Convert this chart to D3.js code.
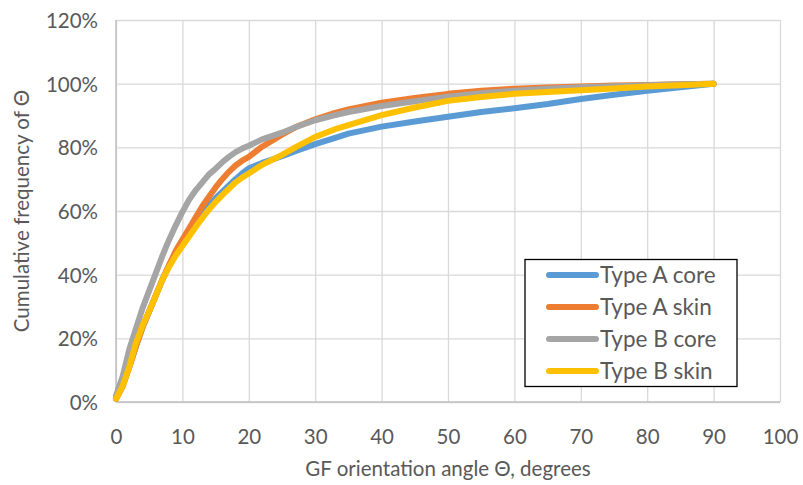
<!DOCTYPE html>
<html>
<head>
<meta charset="utf-8">
<script src="https://cdn.jsdelivr.net/npm/d3@7"></script>
<style>
  html, body { margin: 0; padding: 0; background: #fff; }
  svg { display: block; font-family: Lato, "Open Sans", sans-serif; }
</style>
</head>
<body>
<svg id="chart" width="803" height="485"></svg>
<script>
// Cumulative distribution of glass-fibre orientation angle, four sample groups
const angles = [0, 1, 2, 3, 4, 5, 6, 7, 8, 9, 10, 11, 12, 13, 14, 15, 16, 17, 18, 19, 20,
                22, 25, 27, 30, 33, 35, 40, 45, 50, 55, 60, 65, 70, 75, 80, 85, 90];

const typeACore = [1, 5, 11, 17.5, 23.5, 28.5, 33.5, 38.5, 43, 47, 50, 53, 56, 59, 61.8, 64, 66, 68, 70, 71.8, 73.4,
                   75.1, 77.2, 78.8, 81, 83, 84.3, 86.5, 88.1, 89.6, 91.1, 92.3, 93.6, 95.2, 96.5, 97.8, 98.9, 100];
const typeASkin = [1, 5, 11, 17.5, 23.5, 28.5, 33.5, 38.5, 43, 47.5, 51, 54.5, 58, 61.5, 64.5, 67.4, 70, 72.3, 74.3, 75.8, 77,
                   80.2, 84, 86.3, 88.8, 90.8, 91.9, 94, 95.5, 96.8, 97.8, 98.4, 98.8, 99.1, 99.4, 99.6, 99.8, 100];
const typeBCore = [2, 8, 16.5, 23, 29.5, 35, 40.5, 46, 51, 55.5, 59.7, 63.5, 66.5, 69, 71.5, 73.3, 75.3, 77, 78.5, 79.6, 80.5,
                   82.5, 84.6, 86.3, 88.5, 90.1, 91.1, 93, 94.5, 95.9, 97, 97.8, 98.4, 98.9, 99.2, 99.5, 99.8, 100];
const typeBSkin = [1, 5, 11, 18.5, 24, 28.5, 33.5, 38.5, 42.5, 46, 49, 52, 55, 57.8, 60.5, 62.8, 65, 67, 69, 70.5, 71.8,
                   74.5, 77.6, 80, 83.3, 85.7, 87, 90.1, 92.5, 94.6, 95.8, 96.8, 97.4, 97.9, 98.5, 99.1, 99.5, 100];

const seriesNames = ["Type A core", "Type A skin", "Type B core", "Type B skin"];
const seriesValues = [typeACore, typeASkin, typeBCore, typeBSkin];
const seriesColors = ["#5B9BD5", "#ED7D31", "#A5A5A5", "#FFC000"];

const xTicks = [0, 10, 20, 30, 40, 50, 60, 70, 80, 90, 100];
const yTicks = [0, 20, 40, 60, 80, 100, 120];

const xTitle = "GF orientation angle \u0398, degrees";
const yTitle = "Cumulative frequency of \u0398";

const svg = d3.select("#chart");
const plotL = 116, plotR = 780, plotT = 20, plotB = 402;
const textColor = "#595959";

const x = d3.scaleLinear().domain([0, 100]).range([plotL, plotR]);
const y = d3.scaleLinear().domain([0, 120]).range([plotB, plotT]);

// Vertical gridlines + x labels
const xAxis = svg.append("g")
  .attr("transform", `translate(0,${plotB})`)
  .call(d3.axisBottom(x).tickValues(xTicks).tickSize(-(plotB - plotT)).tickPadding(27).tickFormat(d3.format("d")));
xAxis.select(".domain").remove();
xAxis.selectAll("line").attr("stroke", "#D9D9D9").attr("stroke-width", 1.3);
xAxis.selectAll("text").attr("fill", textColor).attr("font-size", 20.5).attr("font-family", "Lato, sans-serif");

// Horizontal gridlines + y labels
const yAxis = svg.append("g")
  .attr("transform", `translate(${plotL},0)`)
  .call(d3.axisLeft(y).tickValues(yTicks).tickSize(-(plotR - plotL)).tickPadding(18).tickFormat(d => d + "%"));
yAxis.select(".domain").remove();
yAxis.selectAll("line").attr("stroke", "#D9D9D9").attr("stroke-width", 1.3);
yAxis.selectAll("text").attr("fill", textColor).attr("font-size", 20.5).attr("font-family", "Lato, sans-serif")
  .attr("dy", "0.36em");

// Axis lines
svg.append("line").attr("x1", plotL).attr("x2", plotR).attr("y1", plotB).attr("y2", plotB)
  .attr("stroke", "#BFBFBF").attr("stroke-width", 1.5);
svg.append("line").attr("x1", plotL).attr("x2", plotL).attr("y1", plotT).attr("y2", plotB)
  .attr("stroke", "#BFBFBF").attr("stroke-width", 1.5);

// Series lines
const line = d3.line().x((d, i) => x(angles[i])).y(d => y(d));
seriesValues.forEach((vals, k) => {
  svg.append("path")
    .datum(vals)
    .attr("d", line)
    .attr("fill", "none")
    .attr("stroke", seriesColors[k])
    .attr("stroke-width", 6)
    .attr("stroke-linejoin", "round")
    .attr("stroke-linecap", "round");
});

// Axis titles
svg.append("text")
  .attr("x", (plotL + plotR) / 2)
  .attr("y", 476)
  .attr("text-anchor", "middle")
  .attr("fill", textColor)
  .attr("font-size", 20.5)
  .text(xTitle);

svg.append("text")
  .attr("transform", `translate(29,${(plotT + plotB) / 2}) rotate(-90)`)
  .attr("text-anchor", "middle")
  .attr("fill", textColor)
  .attr("font-size", 20.5)
  .text(yTitle);

// Legend
const legend = svg.append("g");
legend.append("rect")
  .attr("x", 525).attr("y", 259.5).attr("width", 212).attr("height", 127)
  .attr("fill", "#fff").attr("stroke", "#000").attr("stroke-width", 1.3);
seriesNames.forEach((name, k) => {
  const ry = 275 + k * 32;
  legend.append("line")
    .attr("x1", 549).attr("x2", 596).attr("y1", ry).attr("y2", ry)
    .attr("stroke", seriesColors[k]).attr("stroke-width", 6).attr("stroke-linecap", "round");
  legend.append("text")
    .attr("x", 600).attr("y", ry + 8)
    .attr("fill", textColor)
    .attr("font-size", 22.5)
    .text(name);
});
</script>
</body>
</html>
